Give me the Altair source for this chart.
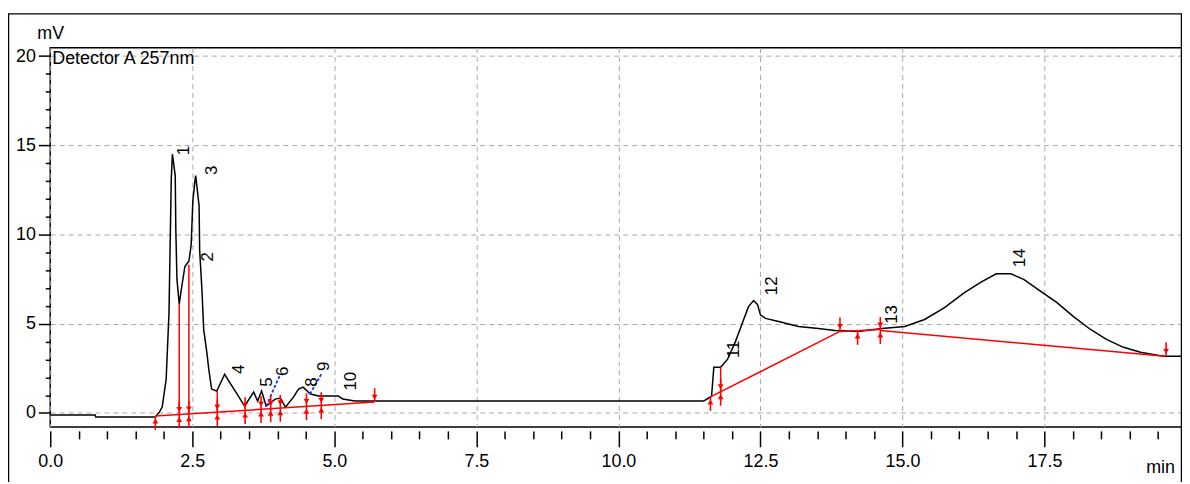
import altair as alt
import pandas as pd

# ---------------- data ----------------
trace_t = [0, 0.79, 0.80, 1.85, 1.92, 1.97, 2.04, 2.09, 2.13, 2.15, 2.20, 2.21, 2.23, 2.27,
           2.32, 2.37, 2.44, 2.48, 2.51, 2.55, 2.56, 2.62, 2.63, 2.67, 2.70, 2.76, 2.79, 2.84,
           2.93, 3.07, 3.18, 3.32, 3.42, 3.58, 3.65, 3.72, 3.80, 3.96, 4.05, 4.14, 4.28, 4.37,
           4.45, 4.58, 4.72, 5.07, 5.15, 5.36, 11.50, 11.59, 11.64, 11.68, 11.80, 11.92, 12.06,
           12.20, 12.29, 12.38, 12.45, 12.50, 12.59, 12.82, 13.17, 13.52, 13.81, 14.22, 14.64,
           15.04, 15.39, 15.74, 16.09, 16.39, 16.65, 16.91, 17.14, 17.44, 17.72, 18.01, 18.31,
           18.59, 18.89, 19.19, 19.59, 19.92]
trace_mv = [-0.11, -0.11, -0.22, -0.22, 0.05, 0.33, 1.89, 5.6, 13.1, 14.5, 13.3, 10.3, 7.5, 6.1,
            7.2, 8.2, 8.5, 9.4, 11.9, 13.1, 13.3, 11.6, 9.1, 6.9, 4.7, 3.3, 2.45, 1.34,
            1.23, 2.17, 1.6, 0.9, 0.39, 1.17, 0.67, 1.23, 0.39, 0.78, 0.84, 0.33, 0.89, 1.34,
            1.45, 1.06, 0.95, 0.95, 0.78, 0.67, 0.67, 0.84, 0.95, 2.56, 2.56, 3.0, 4.0,
            5.2, 5.96, 6.3, 6.07, 5.5, 5.3, 5.13, 4.85, 4.74, 4.62, 4.57, 4.74,
            4.85, 5.24, 5.9, 6.74, 7.35, 7.8, 7.8, 7.47, 6.8, 6.18, 5.4, 4.68,
            4.12, 3.68, 3.4, 3.18, 3.18]

# integration baselines (red)
base_seg = ["a", "a", "b", "b", "c", "c", "d", "d"]
base_t = [1.85, 5.71, 11.62, 13.90, 13.90, 14.61, 14.61, 19.62]
base_mv = [-0.17, 0.61, 0.90, 4.57, 4.57, 4.68, 4.62, 3.18]

# vertical drop lines (red)
drop_t = [2.27, 2.44, 2.94, 11.80]
drop_base = [-0.08, -0.05, 0.05, 1.19]
drop_top = [6.1, 8.3, 1.23, 2.56]

# peak start / end markers
mark_t = [1.85, 2.27, 2.44, 2.94, 3.43, 3.71, 3.88, 4.05, 4.51, 4.77, 5.71,
          11.62, 11.80, 13.90, 14.21, 14.61, 19.64]
mark_base = [-0.17, -0.08, -0.05, 0.05, 0.16, 0.22, 0.26, 0.29, 0.38, 0.44, 0.61,
             0.90, 1.19, 4.57, 4.60, 4.65, 3.18]
mark_kind = ["start", "both", "both", "both", "both", "both", "both", "both", "both", "both", "end",
             "start", "both", "end", "start", "both", "end"]

# blue perpendicular-drop lines
blue_id = ["p5", "p5", "p8", "p8"]
blue_t = [3.80, 4.05, 4.57, 4.77]
blue_mv = [0.39, 2.17, 1.06, 2.17]

# peak number labels
lab_text = ["1", "2", "3", "4", "5", "6", "8", "9", "10", "11", "12", "13", "14"]
lab_t = [2.36, 2.78, 2.85, 3.33, 3.81, 4.09, 4.61, 4.82, 5.30, 12.03, 12.70, 14.81, 17.07]
lab_mv = [14.7, 8.75, 13.6, 2.45, 1.73, 2.34, 1.73, 2.62, 1.78, 3.57, 7.13, 5.52, 8.69]

detector_label = "Detector A 257nm"
x_title = "min"
y_title = "mV"

x_major_vals = [0, 2.5, 5, 7.5, 10, 12.5, 15, 17.5]
x_minor_vals = [v * 0.5 for v in range(1, 40) if v % 5 != 0]
y_major_vals = [0, 5, 10, 15, 20]
y_minor_vals = [v for v in range(1, 20) if v % 5 != 0]

# ---------------- chart ----------------
FONT = "Liberation Sans, Arial, sans-serif"
RED = "#ff0000"
xs = alt.Scale(domain=[0, 19.92], nice=False, zero=False)
ys = alt.Scale(domain=[-0.78, 20.47], nice=False, zero=False)

trace_df = pd.DataFrame({"t": trace_t, "mv": trace_mv})
base_df = pd.DataFrame({"seg": base_seg, "t": base_t, "mv": base_mv})
drop_df = pd.DataFrame({"t": drop_t, "base": drop_base, "top": drop_top})
mark_df = pd.DataFrame({"t": mark_t, "base": mark_base, "kind": mark_kind})
blue_df = pd.DataFrame({"id": blue_id, "t": blue_t, "mv": blue_mv})
lab_df = pd.DataFrame({"label": lab_text, "t": lab_t, "mv": lab_mv})
one = pd.DataFrame({"k": [0]})

grid_kw = dict(grid=True, gridColor="#a8a8a8", gridDash=[5, 4], gridWidth=1)

x_major = alt.Axis(values=x_major_vals, format=".1f", orient="bottom", domain=False, offset=4,
                   tickSize=16, tickWidth=1.5, tickColor="black", labelFont=FONT,
                   labelFontSize=18, labelColor="black", labelPadding=6, labelFlush=False,
                   labelOverlap=False, title=x_title, titleFont=FONT, titleFontSize=18,
                   titleFontWeight="normal", titleColor="black", titleX=1131, titleY=37,
                   titleAlign="right", titleBaseline="middle", **grid_kw)
y_major = alt.Axis(values=y_major_vals, orient="left", domain=False, tickSize=12, tickWidth=1.5,
                   tickColor="black", labelFont=FONT, labelFontSize=18, labelColor="black",
                   labelPadding=3, labelFlush=False, labelOverlap=False, title=y_title,
                   titleFont=FONT, titleFontSize=18, titleFontWeight="normal",
                   titleColor="black", titleAngle=0, titleX=0, titleY=-14,
                   titleAlign="center", titleBaseline="middle", **grid_kw)
x_minor = alt.Axis(values=x_minor_vals, orient="bottom", domain=False, offset=4, tickSize=8,
                   tickWidth=1.5, tickColor="black", labels=False, grid=False, title="")
y_minor = alt.Axis(values=y_minor_vals, orient="left", domain=False, tickSize=5,
                   tickWidth=1.5, tickColor="black", labels=False, grid=False, title="")

X = lambda f="t": alt.X(f"{f}:Q", scale=xs, axis=None)

trace = alt.Chart(trace_df).mark_line(color="black", strokeWidth=1.5).encode(
    x=alt.X("t:Q", scale=xs, axis=x_major),
    y=alt.Y("mv:Q", scale=ys, axis=y_major),
)
minor = alt.Chart(trace_df).mark_line(strokeOpacity=0).encode(
    x=alt.X("t:Q", scale=xs, axis=x_minor),
    y=alt.Y("mv:Q", scale=ys, axis=y_minor),
)

baselines = alt.Chart(base_df).mark_line(color=RED, strokeWidth=1.5).encode(
    x=X(), y=alt.Y("mv:Q", scale=ys, axis=None), detail="seg:N")

drops = alt.Chart(drop_df).mark_rule(color=RED, strokeWidth=1.5).encode(
    x=X(), y=alt.Y("base:Q", scale=ys, axis=None), y2="top:Q")

blue = alt.Chart(blue_df).mark_line(color="#1a2cff", strokeWidth=1.8, strokeDash=[3, 2]).encode(
    x=X(), y=alt.Y("mv:Q", scale=ys, axis=None), detail="id:N")

mb = alt.Chart(mark_df)
yb = alt.Y("base:Q", scale=ys, axis=None)
rule_both = mb.mark_rule(color=RED, strokeWidth=1.6, yOffset=-13, y2Offset=14).encode(
    x=X(), y=yb, y2="base:Q").transform_filter("datum.kind == 'both'")
rule_start = mb.mark_rule(color=RED, strokeWidth=1.6, yOffset=0, y2Offset=14).encode(
    x=X(), y=yb, y2="base:Q").transform_filter("datum.kind == 'start'")
rule_end = mb.mark_rule(color=RED, strokeWidth=1.6, yOffset=-14, y2Offset=0).encode(
    x=X(), y=yb, y2="base:Q").transform_filter("datum.kind == 'end'")
tri_down = mb.mark_point(shape="triangle-down", filled=True, color=RED, size=34, opacity=1,
                         yOffset=-5).encode(x=X(), y=yb).transform_filter(
    "datum.kind == 'both' || datum.kind == 'end'")
tri_up = mb.mark_point(shape="triangle-up", filled=True, color=RED, size=34, opacity=1,
                       yOffset=5).encode(x=X(), y=yb).transform_filter(
    "datum.kind == 'both' || datum.kind == 'start'")

labels = alt.Chart(lab_df).mark_text(angle=270, align="center", baseline="middle", font=FONT,
                                     fontSize=17, color="black").encode(
    x=X(), y=alt.Y("mv:Q", scale=ys, axis=None), text="label:N")

det = alt.Chart(one).mark_text(align="left", baseline="middle", font=FONT, fontSize=18,
                               color="black").encode(
    x=alt.value(2), y=alt.value(11), text=alt.value(detector_label))

frame = alt.Chart(one).mark_rect(filled=False, stroke="black", strokeWidth=1.5).encode(
    x=alt.value(-42), x2=alt.value(1138), y=alt.value(-34), y2=alt.value(480))

chart = alt.layer(
    trace, minor, baselines, drops, blue, rule_both, rule_start, rule_end,
    tri_down, tri_up, labels, det, frame
).resolve_axis(x="independent", y="independent").properties(
    width=1138.5, height=381.5,
    padding={"left": 42.5, "top": 38.5, "right": 0, "bottom": 54},
    autosize=alt.AutoSizeParams(type="none"),
    background="white",
).configure_view(stroke="black", strokeWidth=1.5)

chart.save("out.html", embed_options={"renderer": "svg", "actions": False})
